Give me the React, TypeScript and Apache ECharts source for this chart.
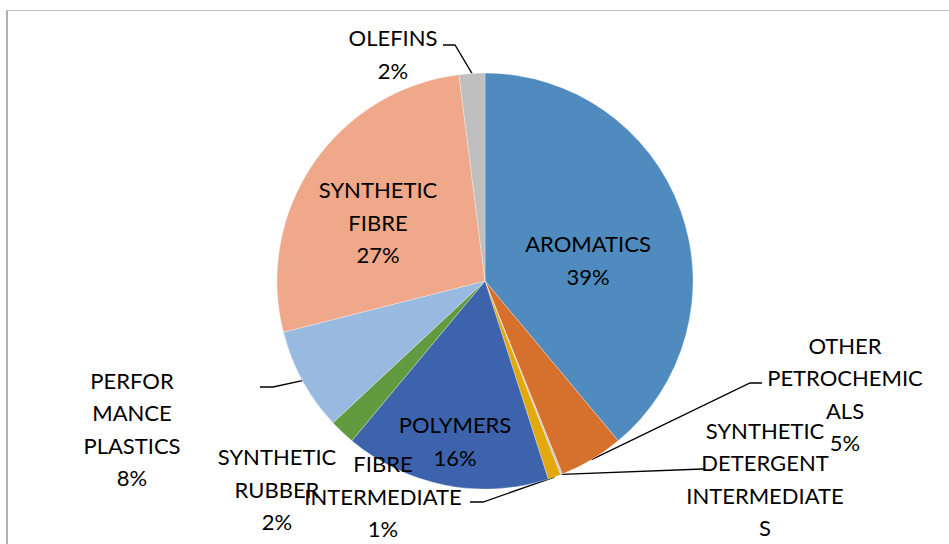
import React, { useEffect, useRef } from "react";
import * as echarts from "echarts";

const categories = [
  "AROMATICS",
  "OTHER PETROCHEMICALS",
  "SYNTHETIC DETERGENT INTERMEDIATES",
  "FIBRE INTERMEDIATE",
  "POLYMERS",
  "SYNTHETIC RUBBER",
  "PERFORMANCE PLASTICS",
  "SYNTHETIC FIBRE",
  "OLEFINS",
];
const values = [39, 5, 0.15, 1, 16, 2, 8, 27, 2];
const labelTexts = [
  "AROMATICS",
  "OTHER\nPETROCHEMIC\nALS",
  "SYNTHETIC\nDETERGENT\nINTERMEDIATE\nS",
  "FIBRE\nINTERMEDIATE",
  "POLYMERS",
  "SYNTHETIC\nRUBBER",
  "PERFOR\nMANCE\nPLASTICS",
  "SYNTHETIC\nFIBRE",
  "OLEFINS",
];
const colors = [
  "#4F8BBE",
  "#D5702D",
  "#C8C8C8",
  "#E2A80C",
  "#3C63AC",
  "#629A3F",
  "#99BAE0",
  "#F0A88A",
  "#BFBFBF",
];

// label layout (label block centre, optional leader elbow and end)
const labelLayouts: { x: number; y: number; line?: number[][] }[] = [
  { x: 588, y: 260 },
  { x: 845, y: 394, line: [[750, 383], [762, 383]] },
  { x: 765, y: 495, line: [[703, 469], [705, 469]] },
  { x: 383, y: 496, line: [[483, 502], [470, 502]] },
  { x: 455, y: 441 },
  { x: 277, y: 489 },
  { x: 132, y: 429, line: [[273, 387], [260, 387]] },
  { x: 378, y: 222 },
  { x: 393, y: 54, line: [[455, 45], [443, 45]] },
];

export default function App() {
  const ref = useRef<HTMLDivElement>(null);
  useEffect(() => {
    const chart = echarts.init(ref.current!, null, { renderer: "svg" });
    chart.setOption({
      animation: false,
      backgroundColor: "#ffffff",
      graphic: [
        {
          type: "line",
          shape: { x1: 7, y1: 10, x2: 7, y2: 544 },
          style: { stroke: "#B0B0B0", lineWidth: 2 },
        },
        {
          type: "line",
          shape: { x1: 6, y1: 10.5, x2: 949, y2: 10.5 },
          style: { stroke: "#BEBEBE", lineWidth: 1 },
        },
      ],
      series: [
        {
          type: "pie",
          center: [485, 281],
          radius: 208,
          startAngle: 90,
          clockwise: true,
          percentPrecision: 0,
          avoidLabelOverlap: false,
          itemStyle: { borderColor: "#ffffff", borderWidth: 0.3 },
          label: {
            show: true,
            position: "outside",
            fontFamily: "Lato",
            fontSize: 22,
            lineHeight: 32.5,
            color: "#000000",
            align: "center",
          },
          labelLine: {
            show: true,
            length: 10,
            length2: 10,
            lineStyle: { color: "#000000", width: 1.3 },
          },
          labelLayout: (params: any) => {
            const L = labelLayouts[params.dataIndex];
            const res: any = {
              x: L.x,
              y: L.y,
              align: "center",
              verticalAlign: "middle",
            };
            if (L.line && params.labelLinePoints) {
              res.labelLinePoints = [params.labelLinePoints[0], ...L.line];
            }
            return res;
          },
          data: categories.map((c, i) => ({
            name: c,
            value: values[i],
            itemStyle: { color: colors[i] },
            label: {
              formatter: labelTexts[i] + "\n{d}%",
            },
            labelLine: { show: !!labelLayouts[i].line },
          })),
        },
      ],
    });
    return () => chart.dispose();
  }, []);
  return (
    <div
      ref={ref}
      style={{ position: "fixed", left: 0, top: 0, width: 949, height: 544 }}
    />
  );
}
